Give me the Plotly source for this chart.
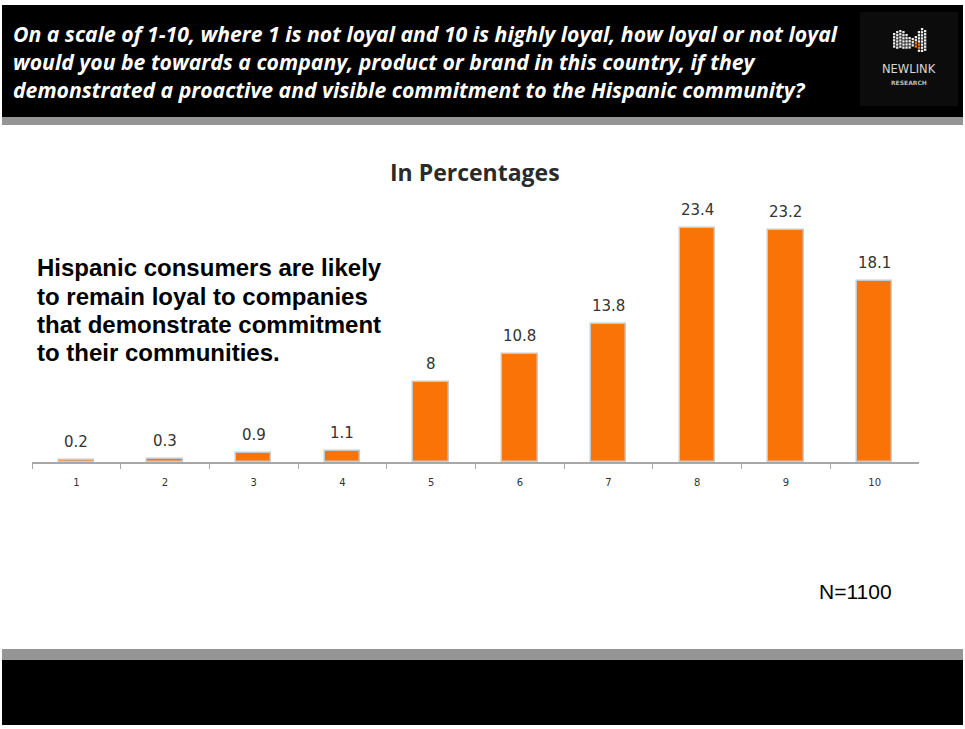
import plotly.graph_objects as go

# Survey results: loyalty score (1-10) and share of respondents, in percent
scores = [1, 2, 3, 4, 5, 6, 7, 8, 9, 10]
percentages = [0.2, 0.3, 0.9, 1.1, 8, 10.8, 13.8, 23.4, 23.2, 18.1]
score_labels = [str(s) for s in scores]

question_lines = [
    "On a scale of 1-10, where 1 is not loyal and 10 is highly loyal, how loyal or not loyal",
    "would you be towards a company, product or brand in this country, if they",
    "demonstrated a proactive and visible commitment to the Hispanic community?",
]
takeaway_lines = [
    "Hispanic consumers are likely",
    "to remain loyal to companies",
    "that demonstrate commitment",
    "to their communities.",
]
chart_title = "In Percentages"
sample_note = "N=1100"

W, H = 965, 729
ORANGE = "#F97306"
LABEL_FONT = "'DejaVu Sans', sans-serif"
TITLE_FONT = "'Open Sans', sans-serif"
ARIAL = "'Liberation Sans', Arial, sans-serif"


def px(x):
    return x / W


def py(y):
    return 1 - y / H


fig = go.Figure()
fig.add_trace(go.Bar(
    x=scores,
    y=percentages,
    width=0.4,
    marker=dict(color=ORANGE, line=dict(color="#c9c9c9", width=1.5)),
    hoverinfo="x+y",
))

# value labels above each bar
annotations = []
for s, v in zip(scores, percentages):
    annotations.append(dict(
        x=s, y=v, xref="x", yref="y", text=f"{v:g}", showarrow=False,
        yanchor="bottom", yshift=7,
        font=dict(family=LABEL_FONT, size=15, color="#333333"),
    ))

annotations.append(dict(
    x=px(475), y=py(172), xref="paper", yref="paper", text=f"<b>{chart_title}</b>",
    showarrow=False, xanchor="center", yanchor="middle",
    font=dict(family=TITLE_FONT, size=23, color="#2a2a2a"),
))

for i, line in enumerate(question_lines):
    annotations.append(dict(
        x=px(11), y=py(33 + 28 * i), xref="paper", yref="paper",
        text=f"<b><i>{line}</i></b>", showarrow=False,
        xanchor="left", yanchor="middle",
        font=dict(family="'Open Sans', sans-serif", size=21.2, color="white"),
    ))

for i, line in enumerate(takeaway_lines):
    annotations.append(dict(
        x=px(35), y=py(268 + 28 * i), xref="paper", yref="paper",
        text=f"<b>{line}</b>", showarrow=False,
        xanchor="left", yanchor="middle",
        font=dict(family=ARIAL, size=24, color="black"),
    ))

annotations.append(dict(
    x=px(855), y=py(591), xref="paper", yref="paper", text=sample_note,
    showarrow=False, xanchor="center", yanchor="middle",
    font=dict(family=ARIAL, size=21, color="black"),
))

# brand mark text
annotations.append(dict(
    x=px(909), y=py(69), xref="paper", yref="paper", text="NEWLINK",
    showarrow=False, xanchor="center", yanchor="middle",
    font=dict(family="'DejaVu Sans', sans-serif", size=11.5, color="#d8d8d8"),
))
annotations.append(dict(
    x=px(909), y=py(82), xref="paper", yref="paper", text="<b>RESEARCH</b>",
    showarrow=False, xanchor="center", yanchor="middle",
    font=dict(family="'DejaVu Sans', sans-serif", size=6, color="#bbbbbb"),
))


def rect(x0, y0, x1, y1, color):
    return dict(type="rect", xref="paper", yref="paper",
                x0=px(x0), x1=px(x1), y0=py(y1), y1=py(y0),
                fillcolor=color, line=dict(width=0), layer="below")


shapes = [
    rect(2, 5, 963, 117, "#000000"),
    rect(2, 117, 963, 125, "#959595"),
    rect(2, 649, 963, 660, "#959595"),
    rect(2, 660, 963, 725, "#000000"),
    rect(860, 12, 958, 106, "#0c0c0c"),
]

# checkered "N" brand mark: (top, bottom) of each column of cells
col_extent = [(33, 49), (31, 50), (30, 51), (31, 52), (34, 50), (37, 49),
              (38, 49), (36, 51), (31, 53), (28, 55), (30, 53)]
CELL = 3.1
for ci, (top, bottom) in enumerate(col_extent):
    x0 = 893 + ci * CELL
    y = top
    while y + CELL <= bottom + 0.5:
        color = "#eeeeee"
        if ci in (7, 8) and 41 <= y <= 47:
            color = "#f07a1a"
        shapes.append(dict(type="rect", xref="paper", yref="paper",
                           x0=px(x0), x1=px(x0 + 2.3), y0=py(y + 2.3), y1=py(y),
                           fillcolor=color, line=dict(width=0)))
        y += CELL

fig.update_layout(
    width=W, height=H,
    margin=dict(l=0, r=0, t=0, b=0),
    paper_bgcolor="white", plot_bgcolor="white",
    showlegend=False,
    bargap=0,
    annotations=annotations,
    shapes=shapes,
    xaxis=dict(
        domain=[px(32), px(919)],
        range=[0.5, 10.5],
        tickmode="array", tickvals=scores, ticktext=score_labels,
        ticks="", showgrid=False, zeroline=False,
        showline=True, linecolor="#a8a8a8", linewidth=1.5,
        tickfont=dict(family=LABEL_FONT, size=10, color="#333333"),
        ticklabelstandoff=10,
        minor=dict(tickmode="array", tickvals=[s - 0.5 for s in scores],
                   ticks="outside", ticklen=5, tickcolor="#a8a8a8", tickwidth=1.2,
                   showgrid=False),
        fixedrange=True,
    ),
    yaxis=dict(
        domain=[py(462), py(202)],
        range=[0, 26],
        visible=False, showgrid=False, zeroline=False,
        fixedrange=True,
    ),
)

fig.write_html("out.html")
